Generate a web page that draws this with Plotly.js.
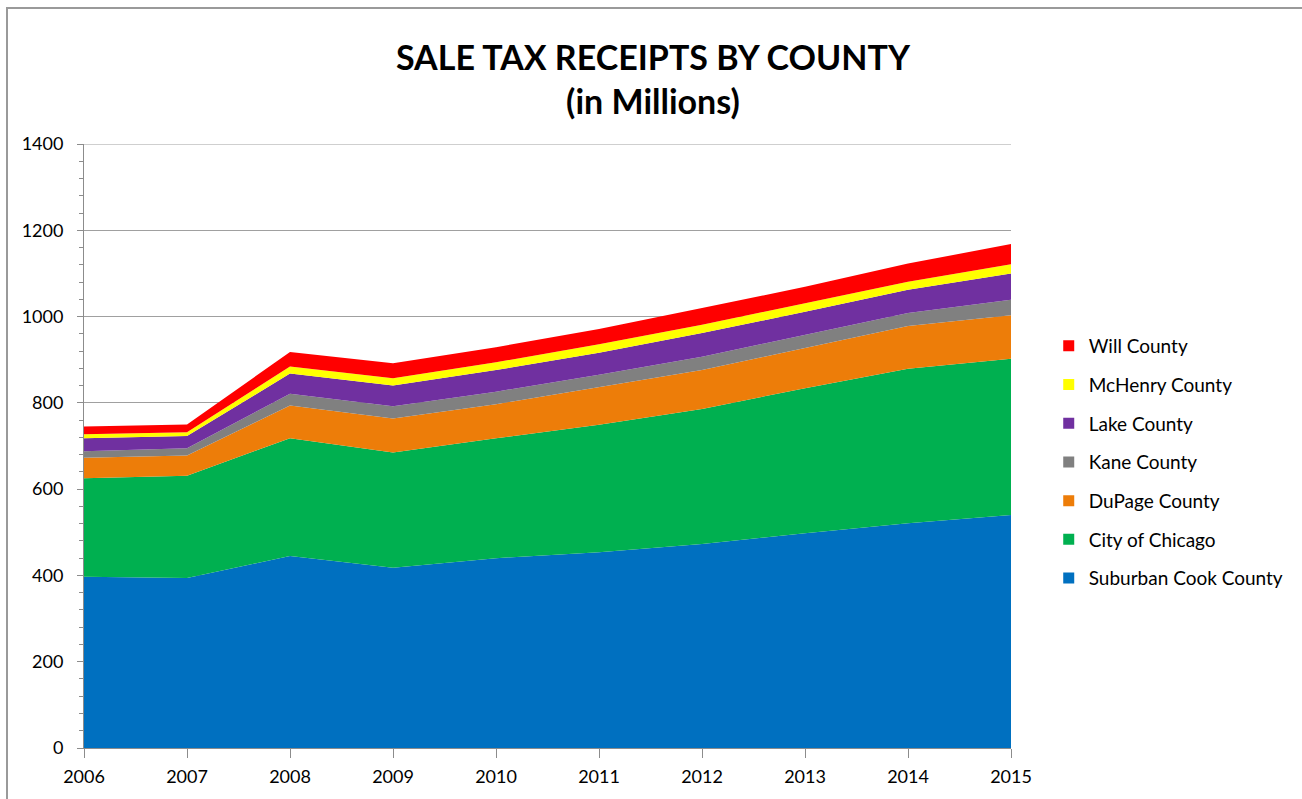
<!DOCTYPE html>
<html>
<head>
<meta charset="utf-8">
<script src="https://cdn.plot.ly/plotly-3.0.1.min.js"></script>
<style>
  html, body { margin: 0; padding: 0; background: #fff; }
  #wrap { position: relative; width: 1302px; height: 799px; overflow: hidden; }
  #chart { position: absolute; left: 0; top: 0; width: 1302px; height: 799px; }
  #frame { position: absolute; left: 6px; top: 7px; width: 1400px; height: 900px;
           border-left: 2px solid #9a9a9a; border-top: 2px solid #9a9a9a; pointer-events: none; }
</style>
</head>
<body>
<div id="wrap"><div id="chart"></div><div id="frame"></div></div>
<script>
const years = [2006, 2007, 2008, 2009, 2010, 2011, 2012, 2013, 2014, 2015];
const suburbanCook = [397, 394, 445, 418, 440, 454, 473, 498, 521, 540];
const chicago      = [228, 237, 273, 267, 278, 295, 313, 336, 358, 362];
const dupage       = [48, 47, 76, 79, 79, 87, 90, 93, 99, 101];
const kane         = [15, 17, 27, 28, 29, 29, 31, 30, 30, 36];
const lake         = [30, 28, 47, 48, 50, 51, 55, 54, 54, 61];
const mchenry      = [9, 9, 16, 17, 18, 20, 19, 20, 19, 21];
const will         = [18, 18, 34, 35, 35, 35, 39, 38, 42, 47];

const seriesNames = ["Suburban Cook County", "City of Chicago", "DuPage County", "Kane County",
                     "Lake County", "McHenry County", "Will County"];
const seriesValues = [suburbanCook, chicago, dupage, kane, lake, mchenry, will];
const seriesColors = ["#0070C0", "#00B050", "#ED7D09", "#808080", "#7030A0", "#FFFF00", "#FF0000"];

const traces = [];
seriesNames.forEach((name, i) => {
  traces.push({
    x: years, y: seriesValues[i], name: name, type: "scatter", mode: "lines",
    stackgroup: "one", line: { width: 0, color: seriesColors[i] },
    fillcolor: seriesColors[i], showlegend: false, hoverinfo: "x+y+name"
  });
});
// legend entries (top to bottom: Will ... Suburban Cook)
for (let i = seriesNames.length - 1; i >= 0; i--) {
  traces.push({
    x: [null], y: [null], name: seriesNames[i], type: "scatter", mode: "markers",
    marker: { symbol: "square", size: 11, color: seriesColors[i] },
    legendgroup: "g" + i, showlegend: true, hoverinfo: "skip"
  });
}

const font = "Lato, 'Open Sans', sans-serif";
const layout = {
  width: 1302, height: 799,
  margin: { l: 84, r: 291, t: 144, b: 51, pad: 0 },
  paper_bgcolor: "#ffffff", plot_bgcolor: "#ffffff",
  font: { family: font, size: 18, color: "#000" },
  title: {
    text: "<b>SALE TAX RECEIPTS BY COUNTY<br>(in Millions)</b>",
    font: { family: font, size: 34, color: "#000" },
    x: 0.5015, xanchor: "center", xref: "container",
    y: 0.9125, yanchor: "middle", yref: "container"
  },
  xaxis: {
    range: [2006, 2015], tickmode: "array", tickvals: years, ticktext: years.map(String),
    showgrid: false, zeroline: false, showline: true, linecolor: "#8c8c8c", linewidth: 1,
    ticks: "outside", ticklen: 9, tickcolor: "#8c8c8c", tickfont: { size: 18, family: font },
    ticklabelstandoff: 3,
    fixedrange: true
  },
  yaxis: {
    range: [0, 1400], dtick: 200, tick0: 0,
    showgrid: true, gridcolor: "#a0a0a0", gridwidth: 1, zeroline: false,
    showline: true, linecolor: "#8c8c8c", linewidth: 1,
    ticks: "outside", ticklen: 6, tickcolor: "#8c8c8c", tickfont: { size: 18, family: font },
    ticklabelstandoff: 10,
    minor: { dtick: 40, ticks: "outside", ticklen: 4, tickcolor: "#8c8c8c", showgrid: false },
    fixedrange: true
  },
  shapes: [{
    type: "line", xref: "paper", yref: "y", x0: 0, x1: 1, y0: 1400, y1: 1400,
    line: { color: "#a0a0a0", width: 1 }
  }],
  showlegend: true,
  legend: {
    x: 1.0407, xanchor: "left", y: 0.697, yanchor: "top",
    traceorder: "grouped", tracegroupgap: 11,
    font: { family: font, size: 19, color: "#000" },
    bgcolor: "rgba(0,0,0,0)", borderwidth: 0, itemwidth: 30
  }
};

Plotly.newPlot("chart", traces, layout, { displayModeBar: false, staticPlot: true });
</script>
</body>
</html>
